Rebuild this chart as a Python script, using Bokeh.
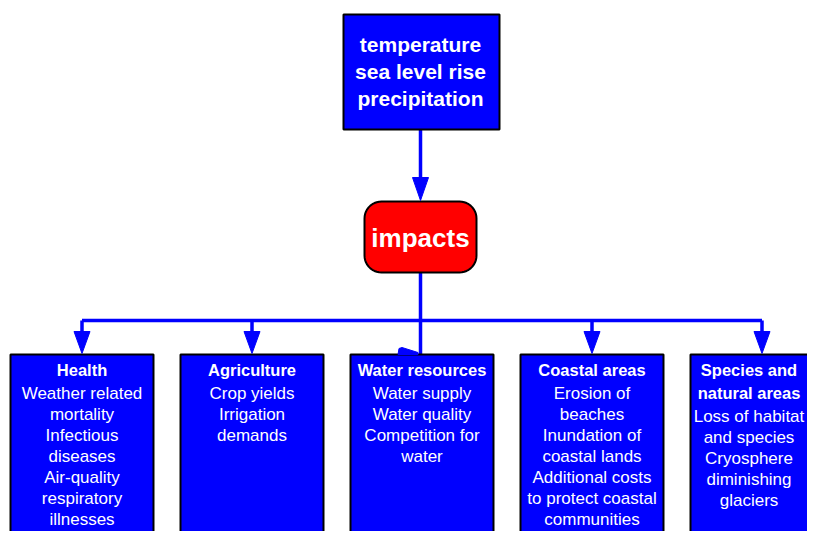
import numpy as np
from bokeh.plotting import figure
from bokeh.models import Range1d
from bokeh.core.properties import value
from bokeh.embed import file_html
from bokeh.resources import INLINE

# ---- content ----
driver_lines = ["temperature", "sea level rise", "precipitation"]
center_label = "impacts"
sector_titles = [["Health"], ["Agriculture"], ["Water resources"], ["Coastal areas"],
                 ["Species and", "natural areas"]]
sector_items = [
    ["Weather related", "mortality", "Infectious", "diseases", "Air-quality", "respiratory", "illnesses"],
    ["Crop yields", "Irrigation", "demands"],
    ["Water supply", "Water quality", "Competition for", "water"],
    ["Erosion of", "beaches", "Inundation of", "coastal lands", "Additional costs", "to protect coastal", "communities"],
    ["Loss of habitat", "and species", "Cryosphere", "diminishing", "glaciers"],
]

# ---- layout (picture pixel coordinates) ----
BLUE = "#0000FF"
RED = "#FF0000"
FONT = value("Liberation Sans")
W, H = 807, 531

p = figure(width=W, height=H, output_backend="svg", toolbar_location=None,
           x_range=Range1d(0, W), y_range=Range1d(H, 0), min_border=0,
           outline_line_color=None, background_fill_color="white", border_fill_color="white")
p.axis.visible = False
p.xgrid.visible = False
p.ygrid.visible = False

lw = 3.5
# top box
tb_l, tb_r, tb_t, tb_b = 343, 499, 14, 129
cx = 420
# impacts box
ib_l, ib_r, ib_t, ib_b = 364, 476, 201, 272
# bottom boxes
box_w, pitch, first_left = 143, 170, 10
bb_t, bb_b = 354, 600
lefts = [first_left + i * pitch for i in range(len(sector_titles))]
centers = [l + box_w / 2 for l in lefts]
text_centers = [(l + min(l + box_w, W)) / 2 for l in lefts]
bus_y = 320

# connector lines
p.segment(x0=[cx], y0=[tb_b], x1=[cx], y1=[ib_t - 20], line_color=BLUE, line_width=lw)
p.segment(x0=[cx], y0=[ib_b], x1=[cx], y1=[bb_t], line_color=BLUE, line_width=lw)
p.segment(x0=[centers[0]], y0=[bus_y], x1=[centers[-1]], y1=[bus_y], line_color=BLUE, line_width=lw)
drop_x = [c for i, c in enumerate(centers) if i != 2]
p.segment(x0=drop_x, y0=[bus_y] * len(drop_x), x1=drop_x, y1=[bb_t - 20] * len(drop_x),
          line_color=BLUE, line_width=lw)

# top box
p.quad(left=[tb_l], right=[tb_r], top=[tb_t], bottom=[tb_b], fill_color=BLUE,
       line_color="black", line_width=2)

# impacts rounded box
r = 17
def rounded(l, rr, t, b, rad):
    xs, ys = [], []
    for (ccx, ccy, a0) in [(rr - rad, t + rad, -90), (rr - rad, b - rad, 0),
                           (l + rad, b - rad, 90), (l + rad, t + rad, 180)]:
        ang = np.radians(np.linspace(a0, a0 + 90, 12))
        xs.extend(ccx + rad * np.cos(ang))
        ys.extend(ccy + rad * np.sin(ang))
    return xs, ys
rx, ry = rounded(ib_l, ib_r, ib_t, ib_b, r)
p.patches(xs=[rx], ys=[ry], fill_color=RED, line_color="black", line_width=2)

# bottom boxes
p.quad(left=lefts, right=[l + box_w for l in lefts], top=[bb_t] * len(lefts),
       bottom=[bb_b] * len(lefts), fill_color=BLUE, line_color="black", line_width=2)

# arrowheads
hx, hy = [], []
hx.append([cx - 8, cx + 8, cx])
hy.append([ib_t - 24, ib_t - 24, ib_t - 1])
for x in drop_x:
    hx.append([x - 8, x + 8, x])
    hy.append([bb_t - 23, bb_t - 23, bb_t - 1])
# small skewed head at water resources box
wx = centers[2] - 1
hx.append([wx - 23, wx - 22, wx - 19, wx - 3, wx - 3])
hy.append([bb_t, bb_t - 6, bb_t - 7, bb_t - 2, bb_t])
p.patches(xs=hx, ys=hy, fill_color=BLUE, line_color=BLUE, line_width=1)

# texts
p.text(x=[cx] * len(driver_lines), y=[44 + 27 * i for i in range(len(driver_lines))],
       text=driver_lines, text_color="white", text_font=FONT, text_font_size="21px",
       text_font_style="bold", text_align="center", text_baseline="middle")
p.text(x=[cx], y=[(ib_t + ib_b) / 2 + 1], text=[center_label], text_color="white",
       text_font=FONT, text_font_size="26px", text_font_style="bold",
       text_align="center", text_baseline="middle")

bx, by, bt, nx, ny, nt = [], [], [], [], [], []
for c, titles, items in zip(text_centers, sector_titles, sector_items):
    y = 369
    for t in titles:
        bx.append(c); by.append(y); bt.append(t)
        y += 23.5
    for t in items:
        nx.append(c); ny.append(y); nt.append(t)
        y += 21.0
p.text(x=bx, y=by, text=bt, text_color="white", text_font=FONT, text_font_size="16.5px",
       text_font_style="bold", text_align="center", text_baseline="middle")
p.text(x=nx, y=ny, text=nt, text_color="white", text_font=FONT, text_font_size="17px",
       text_align="center", text_baseline="middle")

open("out.html", "w").write(file_html(p, INLINE))
